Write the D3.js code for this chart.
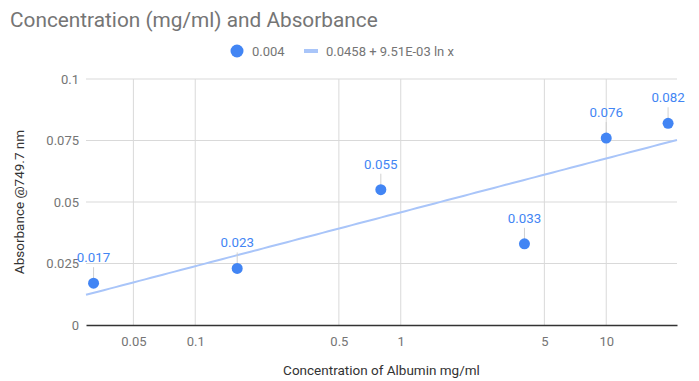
<!DOCTYPE html>
<html>
<head>
  <meta charset="utf-8">
  <title>Concentration (mg/ml) and Absorbance</title>
  <style>
    body { margin: 0; background: #fff; }
    text { font-family: Roboto, "Noto Sans", sans-serif; }
  </style>
</head>
<body>
  <svg id="chart"></svg>

  <script src="https://d3js.org/d3.v7.min.js"></script>
  <script>
    // Du lieu doc tu hinh
    const concentration = [0.032, 0.16, 0.8, 4, 10, 20];
    const absorbance = [0.017, 0.023, 0.055, 0.033, 0.076, 0.082];
    const xTicks = [0.05, 0.1, 0.5, 1, 5, 10];
    const yTicks = [0, 0.025, 0.05, 0.075, 0.1];
    const trendA = 0.0458;
    const trendB = 9.51e-3;
    const legendLabels = ["0.004", "0.0458 + 9.51E-03 ln x"];

    const width = 699;
    const height = 381;
    const margin = { left: 86, right: 22, top: 79, bottom: 56 };

    const svg = d3.select("#chart")
      .attr("width", width)
      .attr("height", height);

    const x = d3.scaleLog()
      .domain([0.0294, 22.1])
      .range([margin.left, width - margin.right]);

    const y = d3.scaleLinear()
      .domain([0, 0.1])
      .range([height - margin.bottom, margin.top]);

    const blue = "#4285f4";
    const trendColor = "#a9c5f9";

    // Tieu de
    svg.append("text")
      .attr("x", 10)
      .attr("y", 27)
      .attr("font-size", 20.8)
      .attr("fill", "#757575")
      .text("Concentration (mg/ml) and Absorbance");

    // Luoi ngang
    svg.append("g")
      .selectAll("line")
      .data(yTicks.filter(d => d > 0))
      .enter().append("line")
      .attr("x1", x.range()[0])
      .attr("x2", x.range()[1])
      .attr("y1", d => y(d))
      .attr("y2", d => y(d))
      .attr("stroke", "#d9d9d9");

    // Luoi doc
    svg.append("g")
      .selectAll("line")
      .data(xTicks)
      .enter().append("line")
      .attr("x1", d => x(d))
      .attr("x2", d => x(d))
      .attr("y1", y.range()[0])
      .attr("y2", y.range()[1])
      .attr("stroke", "#d9d9d9");

    // Truc x
    const xAxis = svg.append("g")
      .attr("transform", `translate(0,${y(0)})`)
      .call(d3.axisBottom(x).tickValues(xTicks).tickFormat(d3.format("")).tickSize(0).tickPadding(12));
    xAxis.select(".domain").attr("stroke", "#333").attr("stroke-width", 1.3);
    xAxis.selectAll("text").attr("font-size", 13).attr("fill", "#757575").attr("font-family", "Roboto");

    // Truc y
    const yAxis = svg.append("g")
      .attr("transform", `translate(${margin.left},0)`)
      .call(d3.axisLeft(y).tickValues(yTicks).tickFormat(d3.format("")).tickSize(0).tickPadding(7));
    yAxis.select(".domain").remove();
    yAxis.selectAll("text").attr("font-size", 13).attr("fill", "#757575").attr("font-family", "Roboto");

    // Ten truc
    svg.append("text")
      .attr("x", (x.range()[0] + x.range()[1]) / 2)
      .attr("y", 375)
      .attr("text-anchor", "middle")
      .attr("font-size", 13.5)
      .attr("fill", "#333")
      .text("Concentration of Albumin mg/ml");

    svg.append("text")
      .attr("transform", `translate(24,${(y.range()[0] + y.range()[1]) / 2}) rotate(-90)`)
      .attr("text-anchor", "middle")
      .attr("font-size", 13.5)
      .attr("fill", "#333")
      .text("Absorbance @749.7 nm");

    // Duong xu huong
    const trendX = d3.range(0, 101).map(i => {
      const [a, b] = x.domain();
      return Math.exp(Math.log(a) + (Math.log(b) - Math.log(a)) * i / 100);
    });
    const line = d3.line()
      .x(d => x(d))
      .y(d => y(trendA + trendB * Math.log(d)));
    svg.append("path")
      .datum(trendX)
      .attr("d", line)
      .attr("fill", "none")
      .attr("stroke", trendColor)
      .attr("stroke-width", 2);

    const points = concentration.map((c, i) => ({ c: c, a: absorbance[i] }));

    // Duong dan nhan
    svg.append("g")
      .selectAll("line")
      .data(points)
      .enter().append("line")
      .attr("x1", d => x(d.c))
      .attr("x2", d => x(d.c))
      .attr("y1", d => y(d.a) - 16)
      .attr("y2", d => y(d.a))
      .attr("stroke", "#d0d0d0");

    // Diem
    svg.append("g")
      .selectAll("circle")
      .data(points)
      .enter().append("circle")
      .attr("cx", d => x(d.c))
      .attr("cy", d => y(d.a))
      .attr("r", 5.5)
      .attr("fill", blue);

    // Nhan du lieu
    svg.append("g")
      .selectAll("text")
      .data(points)
      .enter().append("text")
      .attr("x", d => x(d.c))
      .attr("y", d => y(d.a) - 21)
      .attr("text-anchor", "middle")
      .attr("font-size", 13.3)
      .attr("fill", blue)
      .text(d => d.a);

    // Chu thich
    const legend = svg.append("g");
    legend.append("circle")
      .attr("cx", 237).attr("cy", 51).attr("r", 6.5)
      .attr("fill", blue);
    legend.append("text")
      .attr("x", 252).attr("y", 55.5)
      .attr("font-size", 13).attr("fill", "#757575")
      .text(legendLabels[0]);
    legend.append("line")
      .attr("x1", 304).attr("x2", 318)
      .attr("y1", 51).attr("y2", 51)
      .attr("stroke", trendColor).attr("stroke-width", 4);
    legend.append("text")
      .attr("x", 326).attr("y", 55.5)
      .attr("font-size", 13).attr("fill", "#757575")
      .text(legendLabels[1]);
  </script>
</body>
</html>
